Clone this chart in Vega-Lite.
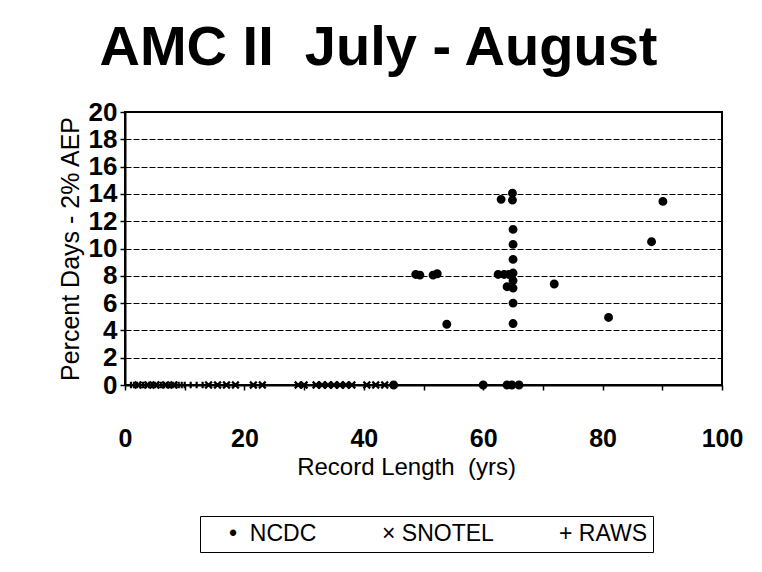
{
  "$schema": "https://vega.github.io/schema/vega-lite/v6.json",
  "width": 597,
  "height": 273,
  "autosize": {"type": "none"},
  "padding": {"left": 125, "top": 112, "right": 40, "bottom": 187},
  "background": "white",
  "title": {
    "text": "AMC II\u00a0 July - August",
    "font": "Liberation Sans",
    "fontSize": 56,
    "fontWeight": "bold",
    "color": "black",
    "anchor": "middle",
    "frame": "bounds",
    "offset": 22,
    "dx": -22
  },
  "data": {
    "values": [
      {"years": 64.9, "pct": 14.05, "network": "NCDC"},
      {"years": 64.9, "pct": 13.55, "network": "NCDC"},
      {"years": 63.0, "pct": 13.6, "network": "NCDC"},
      {"years": 90.1, "pct": 13.45, "network": "NCDC"},
      {"years": 65.0, "pct": 11.4, "network": "NCDC"},
      {"years": 65.0, "pct": 10.3, "network": "NCDC"},
      {"years": 88.2, "pct": 10.5, "network": "NCDC"},
      {"years": 65.0, "pct": 9.2, "network": "NCDC"},
      {"years": 65.0, "pct": 8.2, "network": "NCDC"},
      {"years": 62.5, "pct": 8.1, "network": "NCDC"},
      {"years": 63.5, "pct": 8.1, "network": "NCDC"},
      {"years": 64.3, "pct": 8.1, "network": "NCDC"},
      {"years": 48.7, "pct": 8.1, "network": "NCDC"},
      {"years": 49.4, "pct": 8.05, "network": "NCDC"},
      {"years": 51.6, "pct": 8.05, "network": "NCDC"},
      {"years": 52.3, "pct": 8.15, "network": "NCDC"},
      {"years": 65.0, "pct": 7.65, "network": "NCDC"},
      {"years": 64.0, "pct": 7.2, "network": "NCDC"},
      {"years": 65.0, "pct": 7.1, "network": "NCDC"},
      {"years": 71.9, "pct": 7.4, "network": "NCDC"},
      {"years": 65.0, "pct": 6.0, "network": "NCDC"},
      {"years": 53.9, "pct": 4.45, "network": "NCDC"},
      {"years": 65.0, "pct": 4.5, "network": "NCDC"},
      {"years": 81.0, "pct": 4.95, "network": "NCDC"},
      {"years": 60.0, "pct": 0, "network": "NCDC"},
      {"years": 64.0, "pct": 0, "network": "NCDC"},
      {"years": 64.8, "pct": 0, "network": "NCDC"},
      {"years": 66.0, "pct": 0, "network": "NCDC"},
      {"years": 45.0, "pct": 0, "network": "NCDC"},
      {"years": 1.0, "pct": 0, "network": "RAWS"},
      {"years": 1.5, "pct": 0, "network": "RAWS"},
      {"years": 2.0, "pct": 0, "network": "RAWS"},
      {"years": 2.5, "pct": 0, "network": "RAWS"},
      {"years": 3.0, "pct": 0, "network": "RAWS"},
      {"years": 3.5, "pct": 0, "network": "RAWS"},
      {"years": 4.0, "pct": 0, "network": "RAWS"},
      {"years": 4.5, "pct": 0, "network": "RAWS"},
      {"years": 5.0, "pct": 0, "network": "RAWS"},
      {"years": 5.5, "pct": 0, "network": "RAWS"},
      {"years": 6.0, "pct": 0, "network": "RAWS"},
      {"years": 6.5, "pct": 0, "network": "RAWS"},
      {"years": 7.0, "pct": 0, "network": "RAWS"},
      {"years": 7.5, "pct": 0, "network": "RAWS"},
      {"years": 8.0, "pct": 0, "network": "RAWS"},
      {"years": 8.5, "pct": 0, "network": "RAWS"},
      {"years": 9.0, "pct": 0, "network": "RAWS"},
      {"years": 9.5, "pct": 0, "network": "RAWS"},
      {"years": 10.0, "pct": 0, "network": "RAWS"},
      {"years": 11.0, "pct": 0, "network": "RAWS"},
      {"years": 12.0, "pct": 0, "network": "RAWS"},
      {"years": 13.0, "pct": 0, "network": "RAWS"},
      {"years": 2.2, "pct": 0, "network": "SNOTEL"},
      {"years": 3.8, "pct": 0, "network": "SNOTEL"},
      {"years": 5.2, "pct": 0, "network": "SNOTEL"},
      {"years": 6.8, "pct": 0, "network": "SNOTEL"},
      {"years": 8.2, "pct": 0, "network": "SNOTEL"},
      {"years": 14.0, "pct": 0, "network": "SNOTEL"},
      {"years": 15.5, "pct": 0, "network": "SNOTEL"},
      {"years": 17.0, "pct": 0, "network": "SNOTEL"},
      {"years": 18.5, "pct": 0, "network": "SNOTEL"},
      {"years": 21.5, "pct": 0, "network": "SNOTEL"},
      {"years": 23.0, "pct": 0, "network": "SNOTEL"},
      {"years": 29.0, "pct": 0, "network": "SNOTEL"},
      {"years": 30.0, "pct": 0, "network": "SNOTEL"},
      {"years": 32.0, "pct": 0, "network": "SNOTEL"},
      {"years": 33.0, "pct": 0, "network": "SNOTEL"},
      {"years": 34.0, "pct": 0, "network": "SNOTEL"},
      {"years": 35.0, "pct": 0, "network": "SNOTEL"},
      {"years": 36.0, "pct": 0, "network": "SNOTEL"},
      {"years": 37.0, "pct": 0, "network": "SNOTEL"},
      {"years": 38.0, "pct": 0, "network": "SNOTEL"},
      {"years": 40.5, "pct": 0, "network": "SNOTEL"},
      {"years": 42.0, "pct": 0, "network": "SNOTEL"},
      {"years": 43.5, "pct": 0, "network": "SNOTEL"}
    ]
  },
  "mark": {"type": "point", "filled": false, "fill": "black", "stroke": "black", "strokeWidth": 2.2, "size": 45, "opacity": 1, "fillOpacity": 1, "strokeOpacity": 1},
  "encoding": {
    "x": {
      "field": "years",
      "type": "quantitative",
      "scale": {"domain": [0, 100], "nice": false, "zero": true},
      "axis": {
        "values": [0, 10, 20, 30, 40, 50, 60, 70, 80, 90, 100],
        "labelExpr": "datum.value % 20 == 0 ? datum.label : ''",
        "grid": false,
        "tickSize": 5,
        "tickColor": "black",
        "tickWidth": 1.5,
        "domainColor": "black",
        "domainWidth": 2,
        "labelPadding": 36,
        "labelFont": "Liberation Sans",
        "labelFontSize": 25,
        "labelFontWeight": "bold",
        "labelColor": "black",
        "labelFlush": false,
        "title": "Record Length\u00a0 (yrs)",
        "titleFont": "Liberation Sans",
        "titleFontSize": 24,
        "titleFontWeight": "normal",
        "titleColor": "black",
        "titlePadding": 4,
        "titleX": 281
      }
    },
    "y": {
      "field": "pct",
      "type": "quantitative",
      "scale": {"domain": [0, 20], "nice": false},
      "axis": {
        "values": [0, 2, 4, 6, 8, 10, 12, 14, 16, 18, 20],
        "grid": true,
        "gridColor": "black",
        "gridDash": [6, 2],
        "gridWidth": 1,
        "tickSize": 5,
        "tickColor": "black",
        "tickWidth": 1.5,
        "domainColor": "black",
        "domainWidth": 2,
        "labelPadding": 3,
        "labelFont": "Liberation Sans",
        "labelFontSize": 26,
        "labelFontWeight": "bold",
        "labelColor": "black",
        "labelFlush": false,
        "labelOverlap": false,
        "title": "Percent Days - 2% AEP",
        "titleFont": "Liberation Sans",
        "titleFontSize": 25,
        "titleFontWeight": "normal",
        "titleColor": "black",
        "titlePadding": 5
      }
    },
    "shape": {
      "field": "network",
      "type": "nominal",
      "scale": {
        "domain": ["NCDC", "SNOTEL", "RAWS"],
        "range": ["circle", "M-1,-1L1,1M-1,1L1,-1", "M0,-1L0,1M-1,0L1,0"]
      },
      "legend": {
        "title": null,
        "orient": "none",
        "legendX": 75,
        "legendY": 404,
        "direction": "horizontal",
        "strokeColor": "black",
        "padding": 6,
        "columnPadding": 42,
        "labelFont": "Liberation Sans",
        "labelFontSize": 23,
        "labelColor": "black",
        "labelOffset": 0,
        "labelExpr": "datum.label == 'NCDC' ? '\u2022\u00a0 NCDC' : datum.label == 'SNOTEL' ? '\u00d7\u00a0SNOTEL' : '+\u00a0RAWS'",
        "symbolSize": 0,
        "symbolOpacity": 0,
        "symbolStrokeWidth": 0,
        "encode": {
          "legend": {"update": {"strokeWidth": {"value": 1.5}}}
        }
      }
    }
  },
  "config": {
    "view": {"stroke": "black", "strokeWidth": 2},
    "font": "Liberation Sans"
  }
}
